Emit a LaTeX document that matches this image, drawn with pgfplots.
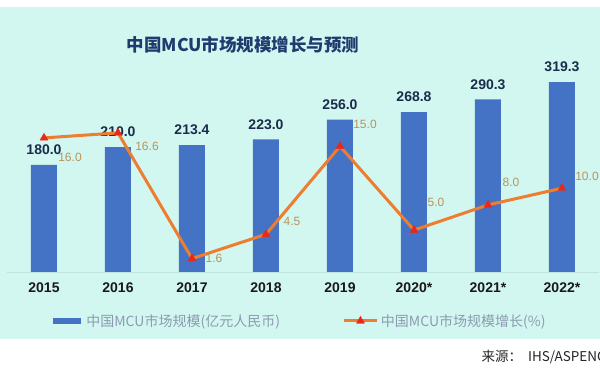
\documentclass[border=0pt]{standalone}
\usepackage{pgfplots}
\pgfplotsset{compat=1.18}
\usepackage{pgfplotstable}
\usepackage{fontspec}
\setmainfont{Liberation Sans}
\newfontfamily\cjk{Noto Sans CJK SC}
\definecolor{panel}{HTML}{D2F7F0}
\definecolor{barblue}{HTML}{4472C4}
\definecolor{lineorange}{HTML}{ED7D31}
\definecolor{markred}{HTML}{E8281A}
\definecolor{labtan}{HTML}{B8935A}
\definecolor{labnavy}{HTML}{1A2B4C}
\definecolor{titlenavy}{HTML}{1F3B6E}
\definecolor{leggray}{HTML}{8C9BB0}
\definecolor{baseline}{HTML}{BFE3DD}

\pgfplotsset{
  barleg/.style={legend image code/.code={\draw[line width=6pt, draw=barblue] (0pt,0pt) -- (28pt,0pt);}},
  lineleg/.style={legend image code/.code={\draw[##1, mark repeat=2, mark phase=2] plot coordinates {(0pt,0pt) (16.5pt,0pt) (33pt,0pt)};}},
}

\pgfplotstableread{
x size
0 180.0
1 210.0
2 213.4
3 223.0
4 256.0
5 268.8
6 290.3
7 319.3
}\sizedata

\pgfplotstableread{
x growth dx dy
0 16.0 26 -19
1 16.6 29 -13
2 1.6 22 0
3 4.5 26 13
4 15.0 25 22
5 5.0 22 28
6 8.0 23 23
7 10.0 25 12
}\growthdata

\begin{document}
\begin{tikzpicture}
\useasboundingbox (0pt,0pt) rectangle (600pt,371pt);
\clip (0pt,0pt) rectangle (600pt,371pt);
\fill[white] (0pt,0pt) rectangle (600pt,371pt);
\fill[panel] (0pt,32pt) rectangle (600pt,364pt);

\node[font=\cjk\bfseries\fontsize{17.5}{18}\selectfont, text=titlenavy] at (243pt,326pt) {中国MCU市场规模增长与预测};
\node[font=\cjk\fontsize{13.5}{14}\selectfont, text=black!85, anchor=west] at (478pt,14pt) {来源：\ \ IHS/ASPENCORE};

\begin{axis}[
  at={(7pt,99pt)}, anchor=south west,
  scale only axis, width=592pt, height=202.3pt,
  xmin=-0.5, xmax=7.5, ymin=0, ymax=340,
  enlargelimits=false, clip=false,
  ybar, bar width=26pt,
  axis x line*=bottom, axis y line=none,
  x axis line style={draw=baseline, line width=0.8pt, -},
  xtick={0,...,7},
  xticklabels={2015,2016,2017,2018,2019,2020*,2021*,2022*},
  major tick length=0pt,
  xticklabel style={font=\bfseries\fontsize{14}{14}\selectfont, text=black!90, yshift=-7pt},
  nodes near coords,
  nodes near coords style={font=\bfseries\fontsize{14}{14}\selectfont, text=labnavy, anchor=center, yshift=15pt,
    /pgf/number format/assume math mode=true, /pgf/number format/fixed, /pgf/number format/fixed zerofill, /pgf/number format/precision=1},
]
\addplot[fill=barblue, draw=none] table[x=x, y=size] {\sizedata};
\end{axis}

\begin{axis}[
  at={(7pt,99pt)}, anchor=south west,
  scale only axis, width=592pt, height=202.3pt,
  xmin=-0.5, xmax=7.5, ymin=0, ymax=24.14,
  enlargelimits=false, clip=false,
  hide axis,
  legend columns=2,
  legend style={at={(0.072,-0.242)}, anchor=west, draw=none, fill=none, inner sep=0pt,
    font=\cjk\fontsize{14}{14}\selectfont, text=leggray,
    nodes={inner sep=2.5pt},
    /tikz/every even column/.append style={column sep=60pt}},
]
\addlegendimage{barleg}
\addlegendentry{中国MCU市场规模(亿元人民币)}
\addplot[color=lineorange, line width=3pt, mark=triangle*, mark size=4.6pt,
  mark options={fill=markred, draw=markred, line width=0.4pt, solid},
  visualization depends on={\thisrow{dx}\as\dx},
  visualization depends on={\thisrow{dy}\as\dy},
  nodes near coords,
  every node near coord/.append style={font=\fontsize{12}{12}\selectfont, text=labtan, anchor=center, xshift=\dx pt, yshift=\dy pt,
    /pgf/number format/assume math mode=true, /pgf/number format/fixed, /pgf/number format/fixed zerofill, /pgf/number format/precision=1},
  lineleg
] table[x=x, y=growth] {\growthdata};
\addlegendentry{中国MCU市场规模增长(\%)}
\end{axis}
\end{tikzpicture}
\end{document}
